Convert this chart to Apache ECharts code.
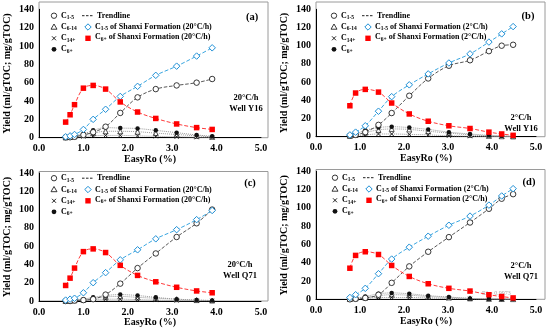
<!DOCTYPE html>
<html>
<head>
<meta charset="utf-8">
<script src="https://cdn.jsdelivr.net/npm/echarts@6/dist/echarts.min.js"></script>
<style>html,body{margin:0;padding:0;background:#fff}#c{width:550px;height:334px}</style>
</head>
<body>
<div id="c"></div>
<script>
// ---- data ----
const xFast = [0.6, 0.7, 0.8, 1.0, 1.22, 1.5, 1.83, 2.22, 2.63, 3.1, 3.55, 3.9];
const xSlow = [0.77, 0.9, 1.12, 1.42, 1.72, 2.12, 2.55, 3.02, 3.5, 3.93, 4.22, 4.48];
const xTicks = [0, 1, 2, 3, 4, 5];
const yTicks = [0, 20, 40, 60, 80, 100, 120, 140];

// Panel (a) 20°C/h Well Y16
const aC15 = [0.5, 0.5, 1, 3, 6, 12, 27, 44, 53, 57, 60, 64];
const aC614 = [0.3, 0.8, 1.5, 3, 5, 7, 7, 6.5, 5, 3.5, 2, 1];
const aC14 = [0.2, 0.4, 0.8, 1.2, 2, 2.5, 2.5, 2, 1.5, 1, 0.5, 0.3];
const aC6 = [0.5, 1, 2, 4, 8, 11, 10.5, 10, 8, 5.5, 3, 1.5];
const aShC15 = [1, 2, 3.5, 9, 20, 31, 45, 56, 68, 78, 89, 98];
const aShC6 = [17, 25, 36, 54, 57, 53, 39, 28, 21, 15, 11, 9];

// Panel (b) 2°C/h Well Y16
const bC15 = [1, 2, 5, 13, 26, 45, 64, 78, 84, 94, 100, 101];
const bC614 = [1, 2, 4.5, 7.5, 8.5, 8, 6, 4, 2, 1, 0.5, 0.3];
const bC14 = [0.5, 1, 2, 3, 3, 2.5, 2, 1, 0.5, 0.3, 0.2, 0.1];
const bC6 = [1.5, 3, 7, 10, 11, 10, 8, 5, 3, 1.5, 1, 0.5];
const bShC15 = [2, 5, 12, 28, 44, 57, 69, 81, 91, 104, 113, 121];
const bShC6 = [34, 48, 52, 49, 37, 25, 17, 12, 9, 5, 3, 1.5];

// Panel (c) 20°C/h Well Q71
const cC15 = [0, 0, 0.5, 1, 2, 7, 19, 36, 52, 70, 85, 100];
const cC614 = [0, 0.3, 0.8, 1.5, 3, 4.5, 5, 4, 3, 2, 1, 0.5];
const cC14 = [0, 0, 0.3, 0.8, 1.5, 2, 2, 1.5, 1, 0.5, 0.3, 0.2];
const cC6 = [0, 0.5, 1, 2, 4, 6, 7, 6, 4, 2, 1, 0.5];
const cShC15 = [1, 2, 3, 9, 20, 31, 45, 56, 68, 78, 89, 99];
const cShC6 = [17, 25, 36, 54, 57, 53, 39, 28, 21, 15, 11, 9];

// Panel (d) 2°C/h Well Q71
const dC15 = [0, 0.5, 1.5, 5, 18, 36, 52, 68, 84, 99, 110, 115];
const dC614 = [0.3, 1, 2, 4, 5, 4.5, 3, 2, 1, 0.5, 0.3, 0.2];
const dC14 = [0, 0.5, 1, 2, 2, 2, 1.5, 1, 0.5, 0.3, 0.2, 0.1];
const dC6 = [0.5, 1, 3, 6, 7, 6, 4, 2.5, 1, 0.5, 0.3, 0.2];
const dShC15 = [2, 5, 12, 28, 44, 57, 69, 81, 91, 103, 113, 121];
const dShC6 = [34, 48, 52, 49, 37, 25, 17, 12, 9, 5, 3, 1.5];

const panelLabels = ['(a)', '(b)', '(c)', '(d)'];
const rateLabels = ['20°C/h', '2°C/h', '20°C/h', '2°C/h'];
const wellLabels = ['Well Y16', 'Well Y16', 'Well Q71', 'Well Q71'];

// ---- layout ----
const FONT = 'Liberation Serif';
const grids = [
  {left: 39, top: 9.3, width: 222, height: 128.4},
  {left: 316, top: 9.3, width: 220, height: 127.4},
  {left: 39, top: 173, width: 222, height: 128},
  {left: 316, top: 171.3, width: 220, height: 128}
];
const frames = [[39, 2, 268, 137.7], [316, 2, 545, 136.7], [39, 171.5, 268, 301], [316, 169.5, 545, 299.3]];
const legOff = [[0, 0], [280, 0], [0, 162.5], [281, 162]];
const labPos = [[252, 17], [528, 16], [250, 183], [529, 182]];
const annPos = [[246, 98], [521, 118], [240, 265], [521, 266]];

const panels = [
  {x: xFast, c15: aC15, c614: aC614, c14: aC14, c6: aC6, s15: aShC15, s6: aShC6},
  {x: xSlow, c15: bC15, c614: bC614, c14: bC14, c6: bC6, s15: bShC15, s6: bShC6},
  {x: xFast, c15: cC15, c614: cC614, c14: cC14, c6: cC6, s15: cShC15, s6: cShC6},
  {x: xSlow, c15: dC15, c614: dC614, c14: dC14, c6: dC6, s15: dShC15, s6: dShC6}
];

const CROSS = 'path://M0,0L10,10M10,0L0,10';
const zip = (xs, ys) => xs.map((v, i) => [v, ys[i]]);

const xAxes = [], yAxes = [], series = [];
panels.forEach((p, i) => {
  xAxes.push({
    gridIndex: i, type: 'value', min: xTicks[0], max: xTicks[xTicks.length - 1], interval: 1,
    name: 'EasyRo (%)', nameLocation: 'middle', nameGap: 16,
    nameTextStyle: {fontFamily: FONT, fontWeight: 'bold', fontSize: 10, color: '#000'},
    axisLine: {lineStyle: {color: '#000', width: 1}},
    axisTick: {show: false},
    splitLine: {show: false},
    axisLabel: {fontFamily: FONT, fontWeight: 'bold', fontSize: 10, color: '#000', margin: 6,
      formatter: v => v.toFixed(1)}
  });
  yAxes.push({
    gridIndex: i, type: 'value', min: yTicks[0], max: yTicks[yTicks.length - 1], interval: 20,
    name: 'Yield (ml/gTOC; mg/gTOC)', nameLocation: 'middle', nameGap: 27, nameRotate: 90,
    nameTextStyle: {fontFamily: FONT, fontWeight: 'bold', fontSize: 10, color: '#000'},
    axisLine: {show: true, lineStyle: {color: '#000', width: 1}},
    axisTick: {show: false},
    splitLine: {show: false},
    axisLabel: {fontFamily: FONT, fontWeight: 'bold', fontSize: 10, color: '#000', margin: 5}
  });
  const base = {type: 'line', xAxisIndex: i, yAxisIndex: i, smooth: 0.35, showSymbol: true, animation: false, silent: true};
  const gray = {color: '#999', type: 'dotted', width: 1};
  series.push(Object.assign({}, base, {name: 'C6-14', data: zip(p.x, p.c614), symbol: 'triangle', symbolSize: 5,
    itemStyle: {color: '#fff', borderColor: '#333', borderWidth: 0.8}, lineStyle: gray}));
  series.push(Object.assign({}, base, {name: 'C14+', data: zip(p.x, p.c14), symbol: CROSS, symbolSize: 4,
    itemStyle: {color: 'none', borderColor: '#222', borderWidth: 1}, lineStyle: gray}));
  series.push(Object.assign({}, base, {name: 'C6+', data: zip(p.x, p.c6), symbol: 'circle', symbolSize: 4.5,
    itemStyle: {color: '#111', borderColor: '#111', borderWidth: 0}, lineStyle: gray}));
  series.push(Object.assign({}, base, {name: 'C1-5', data: zip(p.x, p.c15), symbol: 'circle', symbolSize: 5.5,
    itemStyle: {color: '#fff', borderColor: '#222', borderWidth: 0.9},
    lineStyle: {color: '#444', type: 'dashed', width: 0.9}}));
  series.push(Object.assign({}, base, {name: 'C1-5 Shanxi', data: zip(p.x, p.s15), symbol: 'diamond', symbolSize: 6.5,
    itemStyle: {color: '#fff', borderColor: '#1e8fd6', borderWidth: 1},
    lineStyle: {color: '#3aa6e0', type: 'dashed', width: 1}}));
  series.push(Object.assign({}, base, {name: 'C6+ Shanxi', data: zip(p.x, p.s6), symbol: 'rect', symbolSize: 5.5,
    itemStyle: {color: '#ff0000', borderWidth: 0},
    lineStyle: {color: '#ff3b3b', type: 'dashed', width: 1}}));
});

// ---- graphic: frames, legends, annotations ----
const graphic = [];
const txt = (x, y, text, size, extra) => Object.assign({
  type: 'text', x: x, y: y, silent: true,
  style: Object.assign({text: text, fontFamily: FONT, fontWeight: 'bold', fontSize: size, fill: '#000',
    align: 'left', verticalAlign: 'middle'}, extra || {})
});
const rich = {
  m: {fontFamily: FONT, fontWeight: 'bold', fontSize: 8, lineHeight: 10, fill: '#000'},
  s: {fontFamily: FONT, fontWeight: 'bold', fontSize: 5.5, lineHeight: 5, verticalAlign: 'bottom', fill: '#000'}
};
frames.forEach(f => graphic.push({type: 'rect', silent: true, z: -1,
  shape: {x: f[0], y: f[1], width: f[2] - f[0], height: f[3] - f[1]},
  style: {fill: 'none', stroke: '#9a9a9a', lineWidth: 1}}));

panels.forEach((p, i) => {
  const ox = legOff[i][0], oy = legOff[i][1];
  const rate = rateLabels[i];
  const rows = [15.7, 27, 38.3, 49.3];
  graphic.push({type: 'circle', silent: true, shape: {cx: ox + 54, cy: oy + rows[0], r: 2.7},
    style: {fill: '#fff', stroke: '#222', lineWidth: 0.9}});
  graphic.push({type: 'polygon', silent: true,
    shape: {points: [[ox + 54, oy + rows[1] - 3], [ox + 57, oy + rows[1] + 2.2], [ox + 51, oy + rows[1] + 2.2]]},
    style: {fill: '#fff', stroke: '#222', lineWidth: 0.9}});
  graphic.push({type: 'polyline', silent: true,
    shape: {points: [[ox + 52, oy + rows[2] - 2], [ox + 56, oy + rows[2] + 2]]}, style: {stroke: '#222', lineWidth: 1}});
  graphic.push({type: 'polyline', silent: true,
    shape: {points: [[ox + 56, oy + rows[2] - 2], [ox + 52, oy + rows[2] + 2]]}, style: {stroke: '#222', lineWidth: 1}});
  graphic.push({type: 'circle', silent: true, shape: {cx: ox + 54, cy: oy + rows[3], r: 2.4},
    style: {fill: '#111'}});
  const subs = ['1-5', '6-14', '14+', '6+'];
  subs.forEach((s, k) => graphic.push(txt(ox + 61, oy + rows[k], '{m|C}{s|' + s + '}', 8, {rich: rich})));
  graphic.push({type: 'line', silent: true, shape: {x1: ox + 82, y1: oy + rows[0], x2: ox + 94, y2: oy + rows[0]},
    style: {stroke: '#222', lineWidth: 1, lineDash: [2.5, 1.5]}});
  graphic.push(txt(ox + 97, oy + rows[0], 'Trendline', 8));
  graphic.push({type: 'polygon', silent: true,
    shape: {points: [[ox + 88, oy + rows[1] - 3.2], [ox + 91.2, oy + rows[1]], [ox + 88, oy + rows[1] + 3.2], [ox + 84.8, oy + rows[1]]]},
    style: {fill: '#fff', stroke: '#1e8fd6', lineWidth: 1}});
  graphic.push(txt(ox + 95, oy + rows[1], '{m|C}{s|1-5}{m| of Shanxi Formation (' + rate + ')}', 8, {rich: rich}));
  graphic.push({type: 'rect', silent: true, shape: {x: ox + 85.3, y: oy + rows[2] - 2.7, width: 5.4, height: 5.4},
    style: {fill: '#ff0000'}});
  graphic.push(txt(ox + 95, oy + rows[2] - 1, '{m|C}{s|6+}{m| of Shanxi Formation (' + rate + ')}', 8, {rich: rich}));
  graphic.push(txt(labPos[i][0], labPos[i][1], panelLabels[i], 10.5, {align: 'center'}));
  graphic.push(txt(annPos[i][0], annPos[i][1], rateLabels[i], 8.5, {align: 'center'}));
  graphic.push(txt(annPos[i][0], annPos[i][1] + 10.5, wellLabels[i], 8.5, {align: 'center'}));
});
graphic.push(txt(482, 293.5, 'R² = 0.9973', 6, {fill: '#aaa', fontWeight: 'normal'}));

const chart = echarts.init(document.getElementById('c'), null, {renderer: 'canvas'});
chart.setOption({
  animation: false,
  backgroundColor: '#fff',
  grid: grids,
  xAxis: xAxes,
  yAxis: yAxes,
  series: series,
  graphic: graphic
});
</script>
</body>
</html>
